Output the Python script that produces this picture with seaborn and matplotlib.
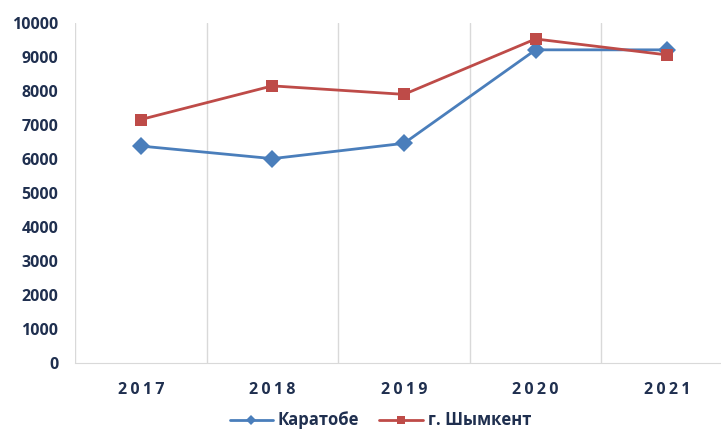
import pandas as pd
import seaborn as sns
import matplotlib.pyplot as plt
from matplotlib.ticker import FixedLocator, MultipleLocator

years = ['2017', '2018', '2019', '2020', '2021']
karatobe = [6370, 6000, 6450, 9200, 9200]
shymkent = [7150, 8140, 7890, 9520, 9050]
series_names = ['Каратобе', 'г. Шымкент']

df = pd.DataFrame({
    'idx': list(range(len(years))) * 2,
    'value': karatobe + shymkent,
    'series': [series_names[0]] * len(years) + [series_names[1]] * len(years),
})

sns.set_style('white')
plt.rcParams['font.family'] = ['Open Sans', 'DejaVu Sans']

fig = plt.figure(figsize=(7.21, 4.32), dpi=100)
ax = fig.add_axes([0.104, 0.1606, 0.9126, 0.787])

palette = {series_names[0]: '#4A7EBB', series_names[1]: '#BE4B48'}
sns.lineplot(data=df, x='idx', y='value', hue='series', style='series',
             markers={series_names[0]: 'D', series_names[1]: 's'},
             dashes=False, palette=palette, linewidth=2.0,
             markersize=9, markeredgewidth=0, ax=ax, legend=True)

ax.set_xlim(-0.5, 4.5)
ax.set_ylim(0, 10000)
ax.yaxis.set_major_locator(MultipleLocator(1000))
ax.set_xticks(range(len(years)))
ax.set_xticklabels(['\u2009'.join(y) for y in years])
ax.xaxis.set_minor_locator(FixedLocator([-0.5, 0.5, 1.5, 2.5, 3.5, 4.5]))
ax.grid(False)
ax.grid(True, which='minor', axis='x', color='#D9D9D9', linewidth=1)
ax.tick_params(axis='both', which='both', length=0)
ax.tick_params(axis='x', pad=14)
ax.tick_params(axis='y', pad=12)
for lab in ax.get_xticklabels() + ax.get_yticklabels():
    lab.set_fontweight('bold')
    lab.set_color('#1F2F4F')
    lab.set_fontsize(11.5)
for s in ['top', 'right', 'left']:
    ax.spines[s].set_visible(False)
ax.spines['bottom'].set_color('#D9D9D9')
ax.set_xlabel('')
ax.set_ylabel('')

handles, labels = ax.get_legend_handles_labels()
leg = ax.legend(handles, labels, loc='center', bbox_to_anchor=(0.464, -0.17),
                ncol=2, frameon=False, handlelength=2.6, columnspacing=1.2,
                handletextpad=0.3, markerscale=0.6, borderpad=0.2,
                prop={'weight': 'bold', 'size': 12})
for t in leg.get_texts():
    t.set_color('#1F2F4F')

fig.savefig('out.png', dpi=100)
